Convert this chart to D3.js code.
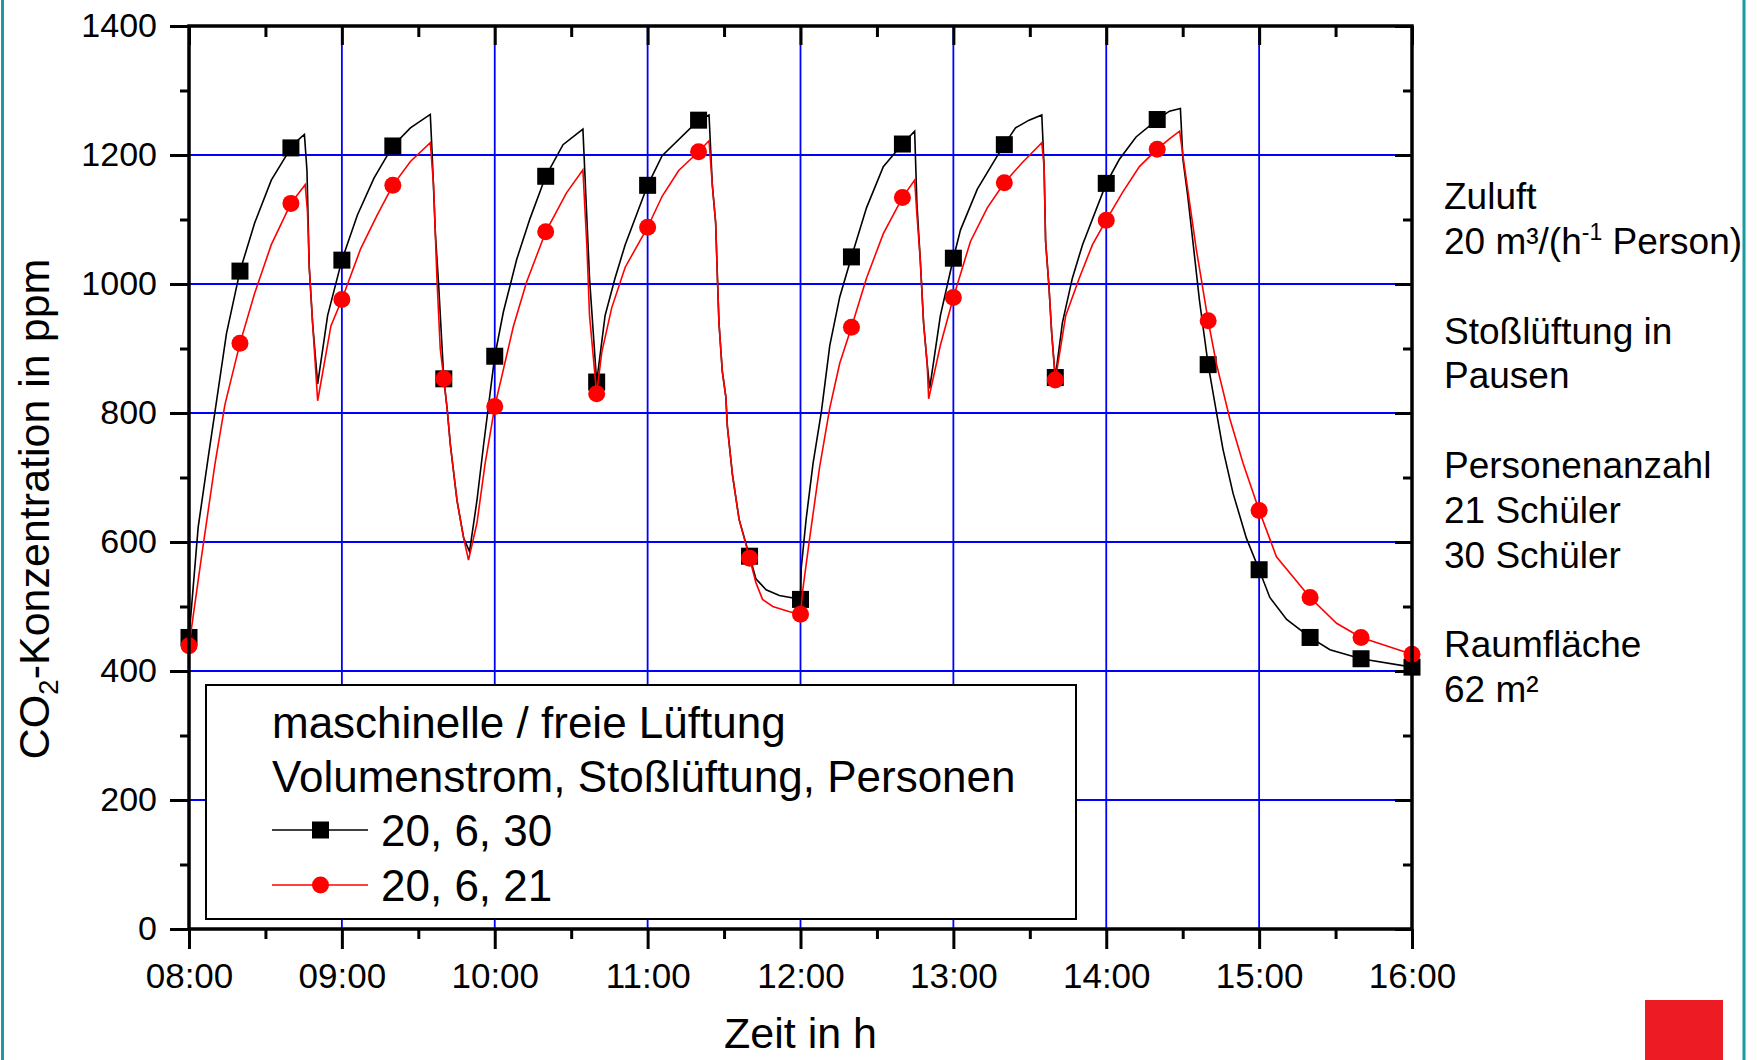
<!DOCTYPE html>
<html>
<head>
<meta charset="utf-8">
<script src="https://d3js.org/d3.v7.min.js"></script>
<style>
  body { margin: 0; background: #fff; }
  svg text { font-family: "Liberation Sans", Arial, sans-serif; fill: #000; }
</style>
</head>
<body>
<div id="my_chart"></div>
<script>
'use strict';

// x values are minutes after 08:00
const hourMinutes = [0, 60, 120, 180, 240, 300, 360, 420, 480];
const hourLabels = ["08:00", "09:00", "10:00", "11:00", "12:00", "13:00", "14:00", "15:00", "16:00"];
const halfHourMinutes = [30, 90, 150, 210, 270, 330, 390, 450];
const ppmTicks = [0, 200, 400, 600, 800, 1000, 1200, 1400];
const ppmMinorTicks = [100, 300, 500, 700, 900, 1100, 1300];
const gridMinutes = [60, 120, 180, 240, 300, 360, 420];
const gridPpm = [200, 400, 600, 800, 1000, 1200];

// symbols every 20 minutes
const markerMinutes = [0, 20, 40, 60, 80, 100, 120, 140, 160, 180, 200, 220, 240,
  260, 280, 300, 320, 340, 360, 380, 400, 420, 440, 460, 480];
const markers30 = [452, 1020, 1211, 1037, 1214, 853, 888, 1167, 848, 1153, 1254, 578, 511,
  1042, 1217, 1040, 1216, 855, 1156, 1255, 875, 557, 452, 419, 406];
const markers21 = [439, 908, 1125, 976, 1153, 853, 810, 1081, 830, 1088, 1205, 575, 488,
  933, 1134, 979, 1157, 851, 1099, 1209, 943, 649, 514, 452, 426];

// simulated course [minute, ppm], 30 pupils
const curve30 = [[0,452],[3.6,623],[7.5,730],[10.2,802],[14.7,923],[20,1020],[25.8,1095],[32.3,1161],
  [40,1211],[43.3,1225],[45.3,1232],[46.3,1176],[47.2,1026],[48.5,940],[50.5,845],[54.4,951],
  [60,1037],[66.1,1107],[72.6,1164],[80,1214],[86.9,1242],[94.7,1263],[95.4,1205],[96.7,1078],
  [98,997],[100,853],[101.3,807],[102.6,750],[105.2,664],[107.8,606],[110.1,585],[113,664],
  [115.6,750],[120,888],[123.4,957],[128.6,1038],[133.8,1101],[140,1167],[146.8,1216],
  [154.6,1240],[155.9,1124],[157.2,1009],[160,848],[163.3,951],[167.2,1009],[171.2,1061],
  [180,1153],[185.7,1199],[200,1254],[204.1,1262],[205.4,1153],[206.7,1095],[207.4,1009],
  [208,940],[209.3,865],[210.7,825],[211.3,779],[213.3,704],[215.9,635],[220,578],[222.5,543],
  [226.5,526],[231.7,517],[240,511],[240.3,560],[242.2,635],[244.9,721],[248.2,802],
  [251.5,905],[255.4,980],[260,1042],[265.9,1118],[272.5,1182],[280,1217],[284.8,1237],
  [285.7,1124],[287,1038],[288.3,940],[289.7,877],[290.7,838],[294.9,951],[300,1040],
  [302.8,1084],[309.4,1147],[317.3,1199],[320,1216],[324.4,1242],[329.7,1254],[334.7,1262],
  [335.6,1182],[336.2,1066],[337.5,997],[338.6,923],[340,855],[342.8,940],[346.7,1009],
  [350.7,1061],[360,1156],[365.1,1193],[371.7,1228],[380,1255],[384.8,1268],[389.1,1272],
  [390.1,1193],[392,1136],[394,1066],[396.6,974],[400,875],[403.2,802],[405.8,744],
  [409.8,675],[415,606],[420,557],[424.2,514],[430.8,480],[440,452],[447.8,433],[460,419],[480,406]];

// simulated course [minute, ppm], 21 pupils
const curve21 = [[0,439],[4.9,577],[10.2,721],[14.1,813],[20,908],[25.8,986],[32.3,1061],[40,1125],
  [45.6,1154],[46.5,1112],[47.2,1026],[48.5,940],[50.5,819],[55.7,935],[60,976],[67.4,1055],
  [73.9,1107],[80,1153],[86.9,1190],[94.7,1219],[96,1153],[97.3,1009],[98.6,900],[100,853],
  [101.3,807],[102.6,750],[105.2,664],[107.8,606],[109.7,572],[113,629],[116.2,721],[120,810],
  [127.3,934],[132.5,1003],[140,1081],[148.1,1141],[154.6,1177],[156.2,1055],[157.2,951],
  [160,830],[162,894],[165.9,963],[171.2,1026],[180,1088],[185.7,1136],[192.2,1176],[200,1205],
  [204.1,1222],[205.4,1153],[206.7,1095],[207.4,1009],[208,940],[209.3,865],[210.7,825],
  [211.3,779],[213.3,704],[215.9,635],[220,575],[222.5,537],[225.1,511],[229.1,500],
  [235.7,492],[240,488],[240.9,526],[243.6,606],[247.5,716],[251.5,808],[255.4,877],[260,933],
  [265.9,1009],[272.5,1078],[280,1134],[284.8,1161],[285.7,1107],[287,1038],[288.3,940],
  [289.7,877],[290.3,822],[294.9,905],[300,979],[306.7,1066],[313.3,1118],[320,1157],
  [327,1188],[334.7,1219],[335.6,1182],[336.2,1066],[337.5,997],[338.6,923],[340,851],
  [344.1,951],[349.4,1009],[354.6,1061],[360,1099],[366.4,1142],[373,1182],[380,1209],
  [384.8,1225],[388.8,1237],[390.7,1182],[395.3,1055],[400,943],[403.2,877],[408.5,791],
  [413.7,722],[420,649],[426.8,577],[440,514],[450.4,474],[460,452],[480,426]];

const legendTitle = ["maschinelle / freie Lüftung", "Volumenstrom, Stoßlüftung, Personen"];
const seriesNames = ["20, 6, 30", "20, 6, 21"];
const seriesColors = ["#000000", "#ff0000"];

// set the dimensions and margins of the graph
let margin = {top: 26, right: 345, bottom: 131, left: 189},
  width = 1757 - margin.left - margin.right,
  height = 1060 - margin.top - margin.bottom;

let root = d3.select("#my_chart")
  .append("svg")
    .attr("width", 1757)
    .attr("height", 1060);

// slide frame
root.append("line").attr("x1", 2.5).attr("x2", 2.5).attr("y1", 0).attr("y2", 1060)
  .style("stroke", "#1b9aa2").style("stroke-width", 3);
root.append("line").attr("x1", 1744).attr("x2", 1744).attr("y1", 0).attr("y2", 1060)
  .style("stroke", "#1b9aa2").style("stroke-width", 3);
root.append("rect").attr("x", 1645).attr("y", 1000).attr("width", 78).attr("height", 60)
  .style("fill", "#ed1c24");

let svg = root.append("g")
  .attr("transform", "translate(" + margin.left + "," + margin.top + ")");

let x = d3.scaleLinear().domain([0, 480]).range([0, width]);
let y = d3.scaleLinear().domain([0, 1400]).range([height, 0]);

// blue grid
svg.selectAll(".vgrid")
  .data(gridMinutes)
  .enter()
  .append("line")
    .attr("x1", d => x(d)).attr("x2", d => x(d))
    .attr("y1", 0).attr("y2", height)
    .style("stroke", "#0000ff").style("stroke-width", 1.8);
svg.selectAll(".hgrid")
  .data(gridPpm)
  .enter()
  .append("line")
    .attr("x1", 0).attr("x2", width)
    .attr("y1", d => y(d)).attr("y2", d => y(d))
    .style("stroke", "#0000ff").style("stroke-width", 2);

// legend box (covers the grid)
let legend = svg.append("g");
legend.append("rect")
  .attr("x", 17).attr("y", 659)
  .attr("width", 870).attr("height", 234)
  .style("fill", "#fff").style("stroke", "#000").style("stroke-width", 2);
legend.selectAll(".ltitle")
  .data(legendTitle)
  .enter()
  .append("text")
    .attr("x", 83)
    .attr("y", (d, i) => 712 + i * 54)
    .style("font-size", "44px")
    .text(d => d);

let legendRows = legend.selectAll(".lrow")
  .data(seriesNames)
  .enter()
  .append("g")
    .attr("transform", (d, i) => "translate(0," + (804 + i * 55) + ")");
legendRows.append("line")
  .attr("x1", 83).attr("x2", 179)
  .style("stroke", (d, i) => seriesColors[i]).style("stroke-width", 1.6);
legendRows.filter((d, i) => i == 0).append("rect")
  .attr("x", 123).attr("y", -8.5).attr("width", 17).attr("height", 17)
  .style("fill", "#000");
legendRows.filter((d, i) => i == 1).append("circle")
  .attr("cx", 131.5).attr("r", 8.5)
  .style("fill", "#ff0000");
legendRows.append("text")
  .attr("x", 192).attr("y", 16)
  .style("font-size", "44px")
  .text(d => d);

// curves
let line = d3.line()
  .x(d => x(d[0]))
  .y(d => y(d[1]));

svg.append("path")
  .datum(curve30)
  .attr("d", line)
  .style("fill", "none").style("stroke", "#000").style("stroke-width", 1.6);
svg.selectAll(".sq")
  .data(markers30)
  .enter()
  .append("rect")
    .attr("x", (d, i) => x(markerMinutes[i]) - 8.5)
    .attr("y", d => y(d) - 8.5)
    .attr("width", 17).attr("height", 17)
    .style("fill", "#000");

svg.append("path")
  .datum(curve21)
  .attr("d", line)
  .style("fill", "none").style("stroke", "#ff0000").style("stroke-width", 1.6);
svg.selectAll(".dot")
  .data(markers21)
  .enter()
  .append("circle")
    .attr("cx", (d, i) => x(markerMinutes[i]))
    .attr("cy", d => y(d))
    .attr("r", 8.5)
    .style("fill", "#ff0000");

// axes: labels left and bottom, inward ticks top and right
function styleAxis(g, fontSize) {
  g.select(".domain").remove();
  g.selectAll(".tick line").style("stroke", "#000").style("stroke-width", 3);
  g.selectAll(".tick text").style("font-size", fontSize).attr("font-family", null);
}

svg.append("g")
  .call(d3.axisLeft(y).tickValues(ppmTicks).tickSize(19).tickPadding(13).tickFormat(d3.format("d")))
  .call(g => styleAxis(g, "34px"));
svg.append("g")
  .call(d3.axisLeft(y).tickValues(ppmMinorTicks).tickSize(9).tickFormat(""))
  .call(g => styleAxis(g, "0px"));
svg.append("g")
  .attr("transform", "translate(0," + height + ")")
  .call(d3.axisBottom(x).tickValues(hourMinutes).tickSize(20).tickPadding(14)
    .tickFormat((d, i) => hourLabels[i]))
  .call(g => styleAxis(g, "35px"));
svg.append("g")
  .attr("transform", "translate(0," + height + ")")
  .call(d3.axisBottom(x).tickValues(halfHourMinutes).tickSize(10).tickFormat(""))
  .call(g => styleAxis(g, "0px"));
svg.append("g")
  .call(d3.axisTop(x).tickValues(hourMinutes).tickSize(-19).tickFormat(""))
  .call(g => styleAxis(g, "0px"));
svg.append("g")
  .call(d3.axisTop(x).tickValues(halfHourMinutes).tickSize(-11).tickFormat(""))
  .call(g => styleAxis(g, "0px"));
svg.append("g")
  .attr("transform", "translate(" + width + ",0)")
  .call(d3.axisRight(y).tickValues(ppmTicks).tickSize(-17).tickFormat(""))
  .call(g => styleAxis(g, "0px"));
svg.append("g")
  .attr("transform", "translate(" + width + ",0)")
  .call(d3.axisRight(y).tickValues(ppmMinorTicks).tickSize(-9).tickFormat(""))
  .call(g => styleAxis(g, "0px"));

// plot frame
svg.append("rect")
  .attr("width", width).attr("height", height)
  .style("fill", "none").style("stroke", "#000").style("stroke-width", 3.5);

// axis titles
svg.append("text")
  .attr("x", width / 2)
  .attr("y", 1048 - margin.top)
  .attr("text-anchor", "middle")
  .style("font-size", "43px")
  .text("Zeit in h");

let yTitle = root.append("text")
  .attr("transform", "translate(49,509) rotate(-90)")
  .attr("text-anchor", "middle")
  .style("font-size", "43px");
yTitle.append("tspan").text("CO");
yTitle.append("tspan").attr("dy", 9).style("font-size", "28px").text("2");
yTitle.append("tspan").attr("dy", -9).text("-Konzentration in ppm");

// notes on the right
let notes = root.append("g").attr("transform", "translate(1444,0)");
const noteLines = [["Zuluft", 209], ["Stoßlüftung in", 344], ["Pausen", 388],
  ["Personenanzahl", 478], ["21 Schüler", 523], ["30 Schüler", 568],
  ["Raumfläche", 657], ["62 m²", 702]];
notes.selectAll(".note")
  .data(noteLines)
  .enter()
  .append("text")
    .attr("y", d => d[1])
    .style("font-size", "37px")
    .text(d => d[0]);
let flow = notes.append("text").attr("y", 254).style("font-size", "37px");
flow.append("tspan").text("20 m³/(h");
flow.append("tspan").attr("dy", -14).style("font-size", "23px").text("-1");
flow.append("tspan").attr("dy", 14).text(" Person)");
</script>
</body>
</html>
